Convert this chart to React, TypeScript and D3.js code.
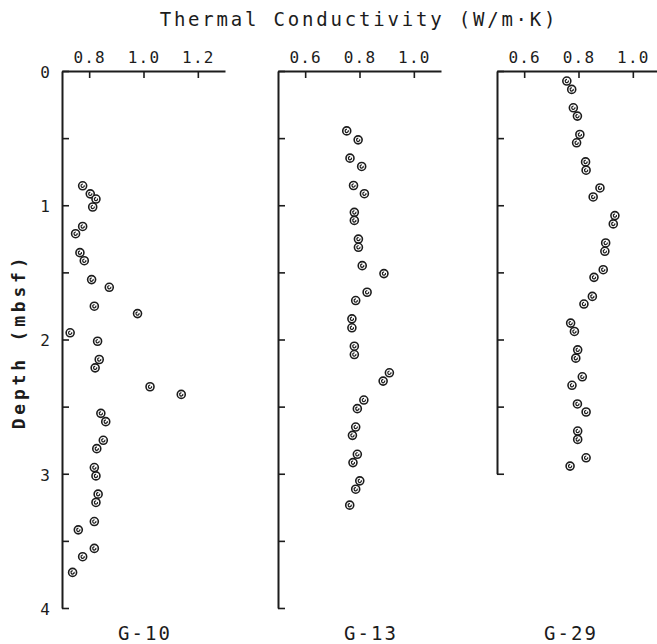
import React, { useRef, useEffect } from 'react'
import { select, scaleLinear, axisTop, axisLeft } from 'd3'

// G-10
const g10Depth = [0.855, 0.915, 0.954, 1.013, 1.158, 1.212, 1.353, 1.413, 1.554, 1.611, 1.752, 1.807, 1.95, 2.013, 2.149, 2.211, 2.352, 2.409, 2.55, 2.612, 2.751, 2.813, 2.954, 3.016, 3.152, 3.214, 3.356, 3.418, 3.556, 3.618, 3.735]
const g10K = [0.776, 0.804, 0.825, 0.813, 0.776, 0.75, 0.766, 0.782, 0.809, 0.874, 0.819, 0.978, 0.73, 0.831, 0.837, 0.822, 1.024, 1.139, 0.843, 0.861, 0.852, 0.828, 0.819, 0.825, 0.833, 0.825, 0.819, 0.76, 0.819, 0.776, 0.739]

// G-13
const g13Depth = [0.446, 0.513, 0.649, 0.711, 0.853, 0.914, 1.053, 1.113, 1.252, 1.313, 1.45, 1.509, 1.648, 1.71, 1.846, 1.913, 2.05, 2.112, 2.248, 2.31, 2.451, 2.515, 2.652, 2.714, 2.855, 2.917, 3.053, 3.115, 3.234]
const g13K = [0.753, 0.795, 0.765, 0.808, 0.778, 0.818, 0.781, 0.781, 0.796, 0.796, 0.81, 0.89, 0.828, 0.786, 0.772, 0.772, 0.781, 0.781, 0.91, 0.887, 0.816, 0.792, 0.786, 0.774, 0.792, 0.776, 0.801, 0.786, 0.764]

// G-29
const g29Depth = [0.075, 0.137, 0.274, 0.336, 0.473, 0.535, 0.677, 0.739, 0.871, 0.938, 1.077, 1.139, 1.281, 1.343, 1.48, 1.537, 1.679, 1.736, 1.878, 1.94, 2.077, 2.139, 2.278, 2.341, 2.48, 2.54, 2.682, 2.744, 2.881, 2.943]
const g29K = [0.757, 0.775, 0.781, 0.796, 0.805, 0.793, 0.826, 0.828, 0.879, 0.854, 0.934, 0.928, 0.9, 0.897, 0.891, 0.857, 0.851, 0.82, 0.771, 0.785, 0.797, 0.79, 0.814, 0.776, 0.796, 0.828, 0.797, 0.797, 0.828, 0.769]

const panels = [
    { name: 'G-10', depth: g10Depth, k: g10K, xDomain: [0.7, 1.3], xTicks: [0.8, 1.0, 1.2], xRange: [62, 225], maxDepth: 4, labelX: 145, yLabels: true },
    { name: 'G-13', depth: g13Depth, k: g13K, xDomain: [0.5, 1.1], xTicks: [0.6, 0.8, 1.0], xRange: [278, 441], maxDepth: 4, labelX: 371, yLabels: false },
    { name: 'G-29', depth: g29Depth, k: g29K, xDomain: [0.5, 1.1], xTicks: [0.6, 0.8, 1.0], xRange: [497, 660], maxDepth: 3, labelX: 571, yLabels: false },
]

const depthTicks = [0, 0.5, 1, 1.5, 2, 2.5, 3, 3.5, 4]

const FONT = '"DejaVu Sans Mono", "Liberation Mono", monospace'
const INK = '#1c1c1c'

const App = () => {
    const svgRef = useRef<SVGSVGElement>(null)

    useEffect(() => {
        const width = 657
        const height = 644
        const svg = select(svgRef.current)
        svg.selectAll('*').remove()

        svg.append('rect').attr('width', width).attr('height', height).attr('fill', '#fff')

        const yScale = scaleLinear().domain([0, 4]).range([71, 608])

        panels.forEach(p => {
            const xScale = scaleLinear().domain(p.xDomain).range(p.xRange)
            const yPanel = scaleLinear().domain([0, p.maxDepth]).range([yScale(0), yScale(p.maxDepth)])
            const g = svg.append('g')

            const xAxis = axisTop(xScale)
                .tickValues(p.xTicks)
                .tickFormat(d => (+d).toFixed(1))
                .tickSizeInner(-7)
                .tickSizeOuter(0)
                .tickPadding(8)

            const yAxis = axisLeft(yPanel)
                .tickValues(depthTicks.filter(d => d <= p.maxDepth))
                .tickFormat(d => (p.yLabels && Number.isInteger(+d)) ? String(d) : '')
                .tickSizeInner(-7)
                .tickSizeOuter(0)
                .tickPadding(11)

            const gx = g.append('g')
                .attr('transform', 'translate(0,' + yScale(0) + ')')
                .call(xAxis)
            const gy = g.append('g')
                .attr('transform', 'translate(' + p.xRange[0] + ',0)')
                .call(yAxis)

            ;[gx, gy].forEach(a => {
                a.attr('font-family', FONT).attr('font-size', 16)
                a.select('.domain').attr('stroke', INK).attr('stroke-width', 2)
                a.selectAll('.tick line').attr('stroke', INK).attr('stroke-width', 1.6)
                a.selectAll('.tick text').attr('fill', INK).style('letter-spacing', '1.2px')
            })
            gy.selectAll('.tick text').attr('dy', '0.4em')

            const pts = g.selectAll('.pt')
                .data(p.depth.map((d, i) => ({ d, k: p.k[i] })))
                .join('g')
                .attr('class', 'pt')
                .attr('transform', v => 'translate(' + xScale(v.k) + ',' + yScale(v.d) + ')')

            pts.append('circle')
                .attr('r', 4)
                .attr('fill', '#fff')
                .attr('stroke', INK)
                .attr('stroke-width', 1.6)

            pts.append('circle')
                .attr('r', 1.6)
                .attr('fill', 'none')
                .attr('stroke', INK)
                .attr('stroke-width', 1.2)
                .attr('stroke-dasharray', '7.5 2.5')
                .attr('transform', 'rotate(-20)')

            g.append('text')
                .attr('x', p.labelX)
                .attr('y', 640)
                .attr('text-anchor', 'middle')
                .attr('font-family', FONT)
                .attr('font-size', 19)
                .style('letter-spacing', '2px')
                .attr('fill', INK)
                .text(p.name)
        })

        svg.append('text')
            .attr('x', 359)
            .attr('y', 26)
            .attr('text-anchor', 'middle')
            .attr('font-family', FONT)
            .attr('font-size', 19)
            .style('letter-spacing', '2.8px')
            .attr('fill', INK)
            .text('Thermal Conductivity (W/m·K)')

        svg.append('text')
            .attr('transform', 'translate(25,' + (yScale(2) + 2) + ') rotate(-90)')
            .attr('text-anchor', 'middle')
            .attr('font-family', FONT)
            .attr('font-size', 18)
            .attr('font-weight', 'bold')
            .style('letter-spacing', '3.8px')
            .attr('fill', INK)
            .text('Depth (mbsf)')
    }, [])

    return (
        <div style={{ position: 'absolute', left: 0, top: 0 }}>
            <svg width={657} height={644} ref={svgRef} style={{ display: 'block' }} />
        </div>
    )
}

export default App
